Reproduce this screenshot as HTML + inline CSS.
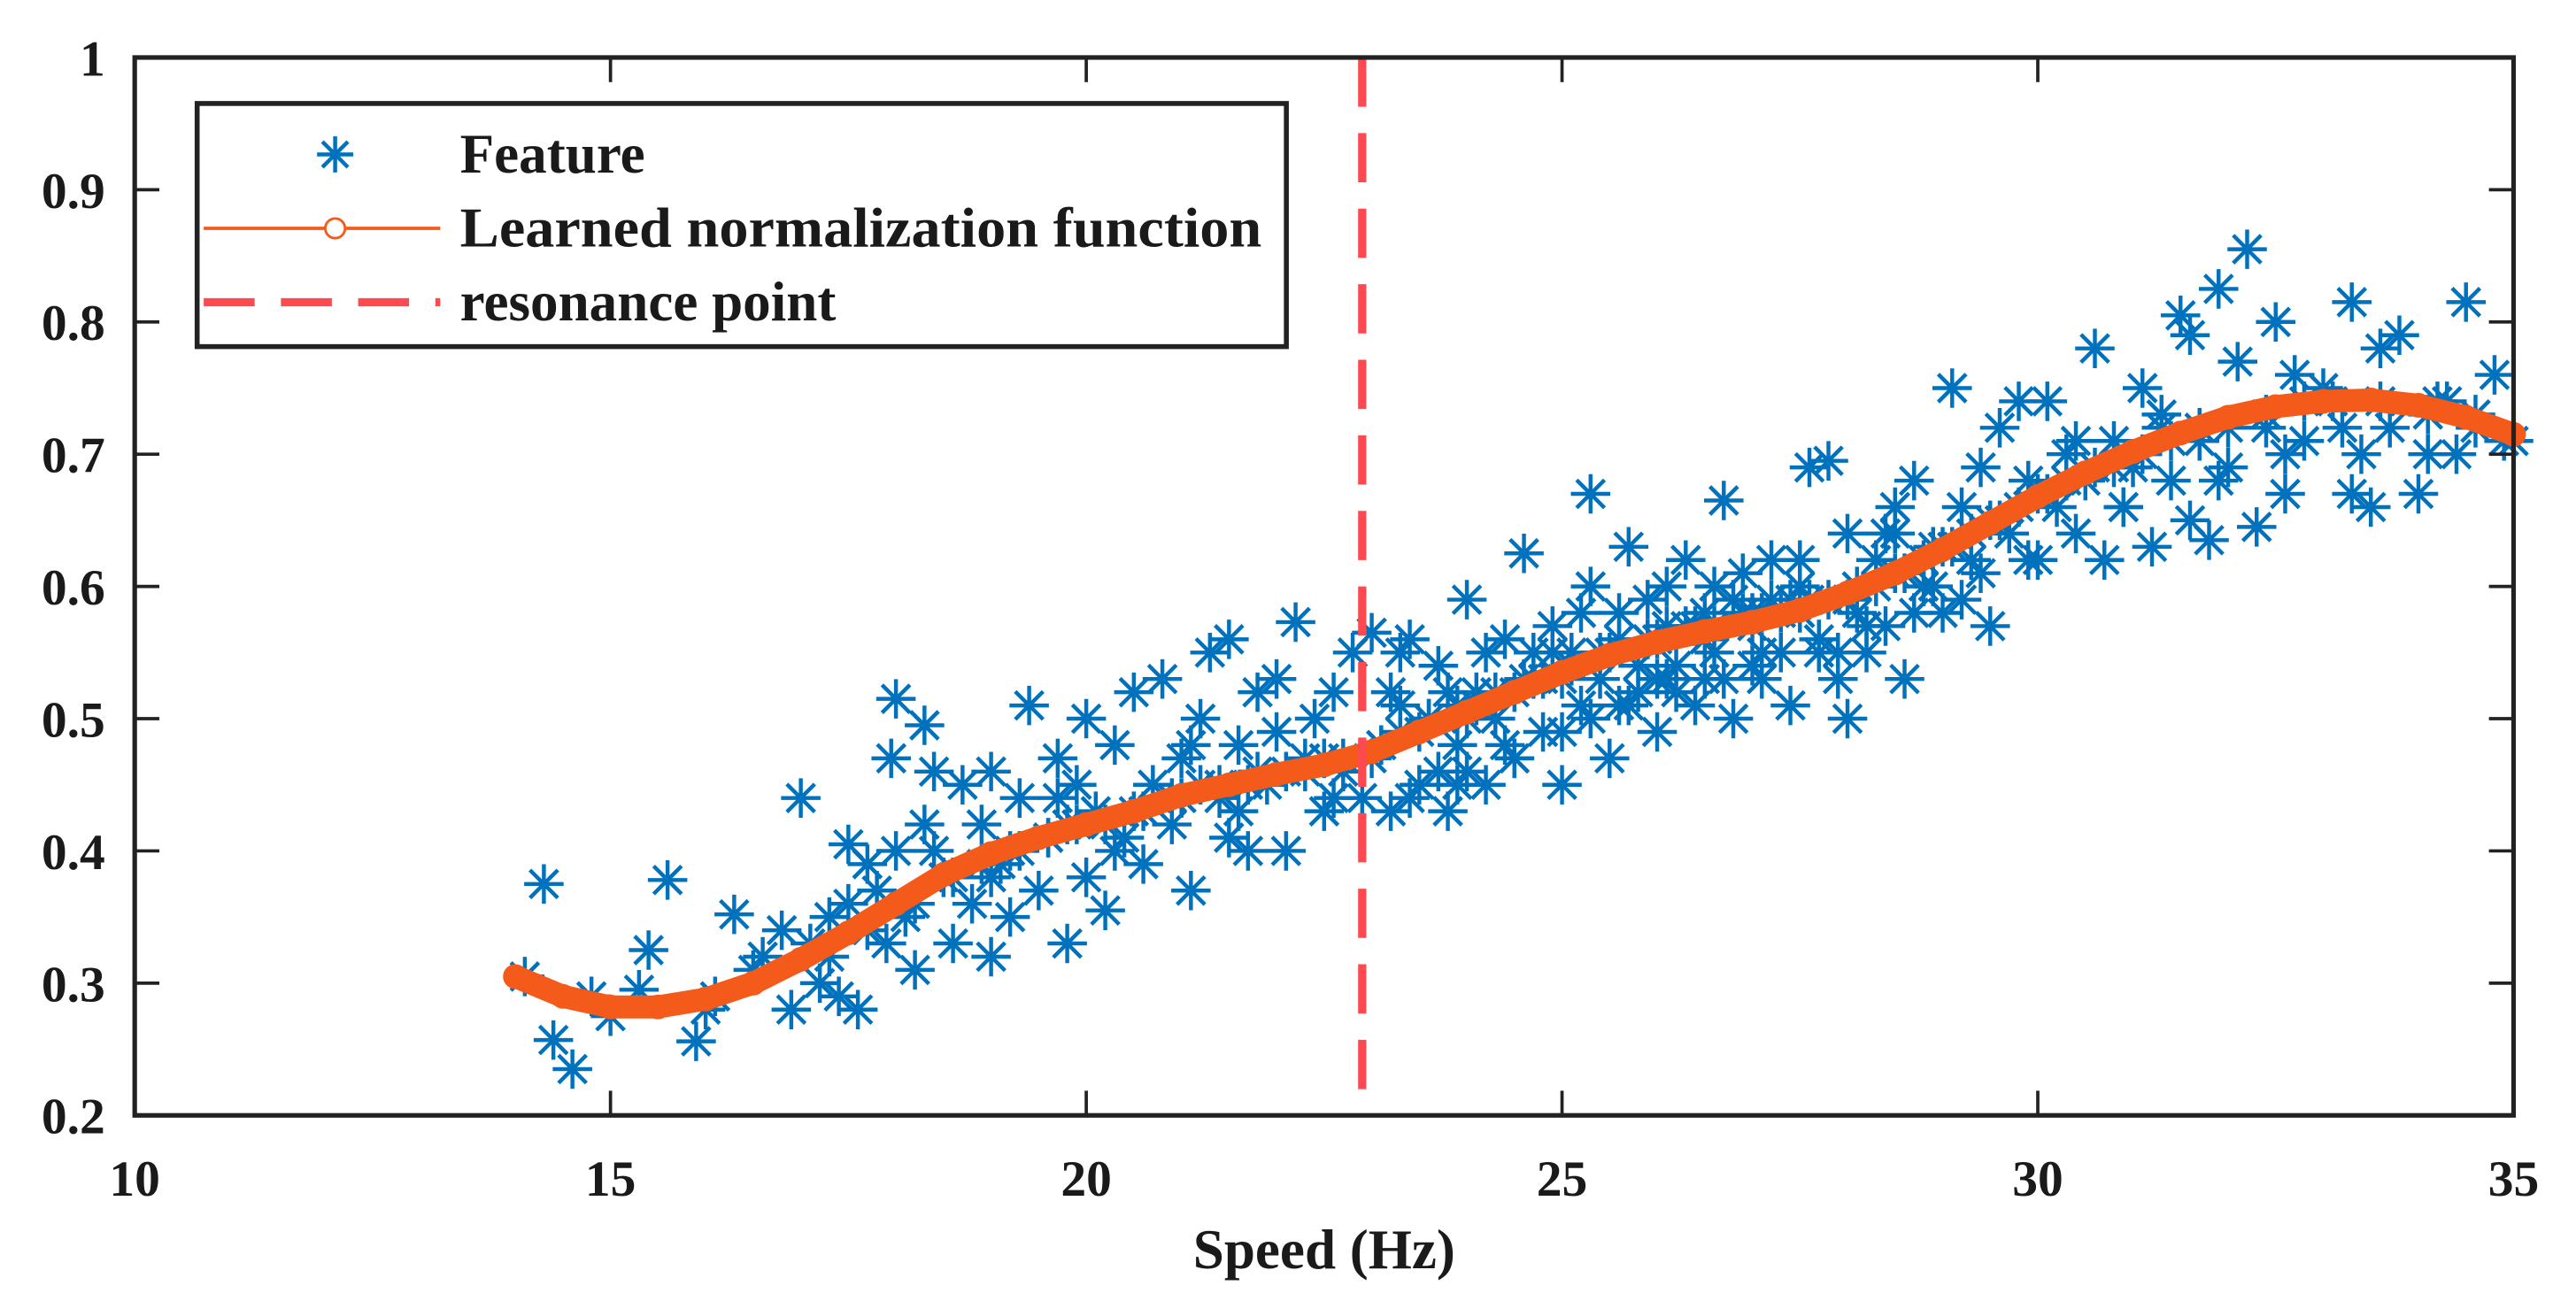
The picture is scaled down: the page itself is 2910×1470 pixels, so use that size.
<!DOCTYPE html>
<html><head><meta charset="utf-8"><style>
html,body{margin:0;padding:0;background:#fff;}
svg{display:block;}
text{font-family:"Liberation Serif",serif;font-weight:bold;fill:#1a1a1a;}
</style></head><body>
<svg id="chart" width="2910" height="1470" viewBox="0 0 1568 792" preserveAspectRatio="none" xmlns="http://www.w3.org/2000/svg">
<rect x="0" y="0" width="1568" height="792" fill="#fff"/>
<g id="plot"></g>
</svg>
<script>
const xTicks = [10,15,20,25,30,35];
const yTicks = [0.2,0.3,0.4,0.5,0.6,0.7,0.8,0.9,1];
const yTickLabels = ["0.2","0.3","0.4","0.5","0.6","0.7","0.8","0.9","1"];
const resonanceX = 22.9;
const featX = [14.1,14.3,14.4,14.6,14.8,15.0,15.3,15.4,15.6,15.9,16.0,16.1,16.3,16.5,16.6,16.8,16.9,17.0,17.1,17.2,17.3,17.4,17.5,17.5,17.6,17.7,17.8,17.9,18.0,17.95,18.0,18.1,18.2,18.3,18.3,18.4,18.5,18.6,18.7,18.8,18.9,19.0,19.0,19.1,19.2,19.3,19.4,19.5,19.6,19.7,19.8,19.9,20.0,20.0,20.1,20.2,20.3,20.4,20.5,20.6,20.7,20.8,20.9,21.0,21.1,21.2,21.3,21.4,21.5,21.5,21.6,21.7,21.8,21.9,22.0,22.1,22.2,22.3,22.4,22.5,22.6,22.7,22.8,22.9,23.0,23.1,23.2,23.3,23.4,23.5,23.6,23.7,23.8,23.9,24.0,24.1,24.2,24.3,24.4,24.5,24.6,24.7,24.8,24.9,25.0,25.1,25.2,25.3,25.3,25.4,25.5,25.6,25.7,25.8,25.9,26.0,26.1,26.2,26.3,26.4,26.5,26.6,26.7,26.8,26.9,27.0,27.1,27.2,27.3,27.4,27.5,27.6,27.7,27.8,27.9,28.0,28.0,28.1,28.2,28.3,28.4,28.5,28.6,28.7,28.8,28.9,29.0,29.1,29.2,29.3,29.4,29.5,29.6,29.7,29.8,29.9,30.0,30.1,30.2,30.3,30.4,30.5,30.6,30.7,30.8,30.9,31.0,31.1,31.2,31.3,31.4,31.5,31.6,31.6,31.7,31.8,31.9,32.0,32.1,32.2,32.3,32.4,32.5,32.6,32.7,32.8,33.0,33.2,33.3,33.3,33.5,33.6,33.7,33.8,34.0,34.1,34.2,34.4,34.5,34.6,34.8,34.9,
19.2,19.8,20.5,21.0,21.7,22.3,23.0,23.5,24.0,24.5,25.0,25.5,26.0,26.5,27.0,27.5,28.0,28.5,29.0,29.5,30.0,25.2,26.3,27.2,24.2,23.8,26.8,25.8,
17.3,17.7,18.2,18.6,18.9,19.3,19.6,19.9,20.2,20.6,20.9,21.2,21.4,21.8,22.1,22.5,22.7,23.1,23.3,23.6,23.9,24.1,24.3,24.6,24.8,25.1,25.4,25.6,25.9,26.1,26.4,26.6,26.9,27.1,27.3,27.6,27.8,28.1,28.3,28.6,28.8,29.1,29.3,29.6,29.8,30.1,30.3,30.6,30.8,31.1,31.4,31.7,32.0,32.4,32.8,33.1,33.6,34.1,34.6,35.0,
18.4,19.0,19.7,20.3,21.1,21.6,22.0,22.6,23.2,23.7,24.4,24.9,25.3,25.7,26.2,26.7,27.0,27.4,27.9,28.4,28.9,29.4,29.9,30.4,30.9,31.3,31.9,32.6,33.4,34.3,
23.4,23.9,24.5,25.0,25.6,26.0,26.5,27.1,27.7,28.2,28.7,29.2,24.7,25.9,26.6,27.5,28.5,23.3,24.0,26.1];
const featY = [.305,.375,.257,.235,.29,.275,.295,.325,.378,.256,.28,.29,.352,.31,.32,.34,.28,.44,.33,.30,.35,.29,.405,.36,.28,.39,.37,.33,.515,.47,.40,.35,.31,.495,.42,.46,.38,.33,.45,.36,.42,.46,.32,.39,.35,.44,.51,.37,.41,.47,.33,.45,.50,.38,.43,.355,.48,.41,.52,.39,.45,.53,.42,.47,.37,.50,.55,.44,.56,.41,.48,.40,.52,.45,.53,.40,.573,.47,.50,.43,.52,.46,.55,.44,.565,.48,.43,.51,.56,.45,.50,.54,.43,.48,.59,.52,.45,.50,.56,.47,.625,.53,.49,.57,.45,.55,.51,.67,.60,.53,.47,.58,.63,.52,.56,.49,.60,.54,.62,.51,.58,.55,.665,.50,.61,.57,.53,.62,.55,.51,.60,.69,.56,.695,.53,.50,.64,.58,.55,.62,.57,.66,.53,.68,.60,.63,.58,.75,.66,.62,.69,.57,.72,.64,.74,.68,.62,.74,.66,.70,.64,.68,.78,.62,.71,.66,.69,.75,.63,.72,.68,.805,.79,.65,.71,.635,.825,.69,.77,.855,.645,.72,.80,.67,.76,.71,.75,.72,.815,.67,.66,.78,.72,.79,.67,.70,.74,.70,.815,.73,.76,.71,
.40,.42,.43,.44,.45,.46,.47,.49,.50,.52,.53,.55,.56,.56,.58,.58,.59,.61,.63,.65,.67,.58,.57,.59,.55,.52,.59,.54,
.32,.34,.36,.38,.39,.40,.41,.42,.42,.43,.44,.45,.45,.46,.46,.47,.47,.48,.49,.50,.51,.51,.52,.53,.53,.54,.55,.56,.56,.57,.57,.57,.58,.58,.58,.59,.59,.60,.60,.61,.62,.63,.64,.65,.66,.67,.68,.69,.69,.70,.71,.72,.72,.73,.74,.74,.74,.73,.72,.71,
.40,.38,.44,.40,.48,.43,.49,.44,.52,.46,.48,.55,.50,.51,.52,.53,.54,.59,.55,.64,.60,.61,.62,.71,.66,.73,.68,.70,.70,.74,
.44,.45,.47,.49,.51,.53,.53,.55,.55,.57,.58,.59,.55,.59,.60,.62,.64,.55,.46,.53];
const curveX = [14,14.5,15,15.5,16,16.5,17,17.5,18,18.5,19,19.5,20,20.5,21,21.5,22,22.5,23,23.5,24,24.5,25,25.5,26,26.5,27,27.5,28,28.5,29,29.5,30,30.5,31,31.5,32,32.5,33,33.5,34,34.5,35];
const curveY = [0.305,0.29,0.282,0.282,0.288,0.30,0.318,0.338,0.36,0.382,0.398,0.41,0.42,0.43,0.442,0.45,0.458,0.465,0.475,0.49,0.505,0.52,0.535,0.548,0.558,0.566,0.573,0.582,0.595,0.61,0.628,0.648,0.668,0.686,0.702,0.716,0.728,0.736,0.74,0.741,0.737,0.728,0.715];

const L=82,R=1530,T=35,B=679;
const sx = v => L + (v-10)/(35-10)*(R-L);
const sy = v => B - (v-0.2)/(1-0.2)*(B-T);
const NS="http://www.w3.org/2000/svg";
const g=document.getElementById('plot');
function mk(tag,attrs,parent){const e=document.createElementNS(NS,tag);for(const k in attrs)e.setAttribute(k,attrs[k]);(parent||g).appendChild(e);return e;}
const BLUE="#0072BD", ORANGE="#F45A1A", RED="#FD4A50";
function star(cx,cy,r,parent){
  const s=mk('g',{stroke:BLUE,'stroke-width':2.4},parent);
  const d=r*0.7071;
  mk('line',{x1:cx-r,y1:cy,x2:cx+r,y2:cy},s);
  mk('line',{x1:cx,y1:cy-r,x2:cx,y2:cy+r},s);
  mk('line',{x1:cx-d,y1:cy-d,x2:cx+d,y2:cy+d},s);
  mk('line',{x1:cx-d,y1:cy+d,x2:cx+d,y2:cy-d},s);
  return s;
}
const sc=mk('g',{});


for(let i=0;i<featX.length;i++){
  const p=star(sx(featX[i]),sy(featY[i]),12,sc);
  
  
}
const cg=mk('g',{});


const pts=curveX.map((x,i)=>sx(x)+','+sy(curveY[i])).join(' ');
const band=mk('polyline',{points:pts,fill:'none',stroke:ORANGE,'stroke-width':14,'stroke-linejoin':'round','stroke-linecap':'round'},cg);


for(let i=0;i<curveX.length;i++){
  const c=mk('circle',{cx:sx(curveX[i]),cy:sy(curveY[i]),r:6.5,fill:'none',stroke:ORANGE,'stroke-width':2},cg);
  
  
}
const rl=mk('line',{x1:sx(resonanceX),y1:T,x2:sx(resonanceX),y2:B,stroke:RED,'stroke-width':5,'stroke-dasharray':'30 16'});


const ax=mk('rect',{x:L,y:T,width:R-L,height:B-T,fill:'none',stroke:'#222','stroke-width':2.8});


xTicks.forEach(v=>{
  const x=sx(v);
  mk('line',{x1:x,y1:B,x2:x,y2:B-15,stroke:'#222','stroke-width':2});
  mk('line',{x1:x,y1:T,x2:x,y2:T+15,stroke:'#222','stroke-width':2});
  const t=mk('text',{x:x,y:728,'text-anchor':'middle','font-size':31});
  t.textContent=v;
  
  
});
yTicks.forEach((v,i)=>{
  const y=sy(v);
  mk('line',{x1:L,y1:y,x2:L+15,y2:y,stroke:'#222','stroke-width':2});
  mk('line',{x1:R,y1:y,x2:R-15,y2:y,stroke:'#222','stroke-width':2});
  const t=mk('text',{x:64,y:y+11,'text-anchor':'end','font-size':31});
  t.textContent=yTickLabels[i];
  
  
});
const xl=mk('text',{x:806,y:772,'text-anchor':'middle','font-size':34});
xl.textContent='Speed (Hz)';


const lg=mk('g',{});


mk('rect',{x:120,y:63,width:663,height:148,fill:'#fff',stroke:'#222','stroke-width':3},lg);
const e1=star(204,94,11,lg);


mk('line',{x1:124,y1:139,x2:268,y2:139,stroke:ORANGE,'stroke-width':2},lg);
mk('circle',{cx:204,cy:139,r:6,fill:'#fff',stroke:ORANGE,'stroke-width':1.5},lg);
mk('line',{x1:124,y1:184,x2:268,y2:184,stroke:RED,'stroke-width':5,'stroke-dasharray':'31 16'},lg);
[['Feature',105,'legend-feature',null],['Learned normalization function',150,'legend-curve',488],['resonance point',195,'legend-resonance',null]].forEach(a=>{
  const attrs={x:280,y:a[1],'font-size':34};
  const t=mk('text',attrs,lg);
  t.textContent=a[0];
  if(a[3]){t.setAttribute('textLength',a[3]);t.setAttribute('lengthAdjust','spacingAndGlyphs');}
  
  
});
</script>
</body></html>
